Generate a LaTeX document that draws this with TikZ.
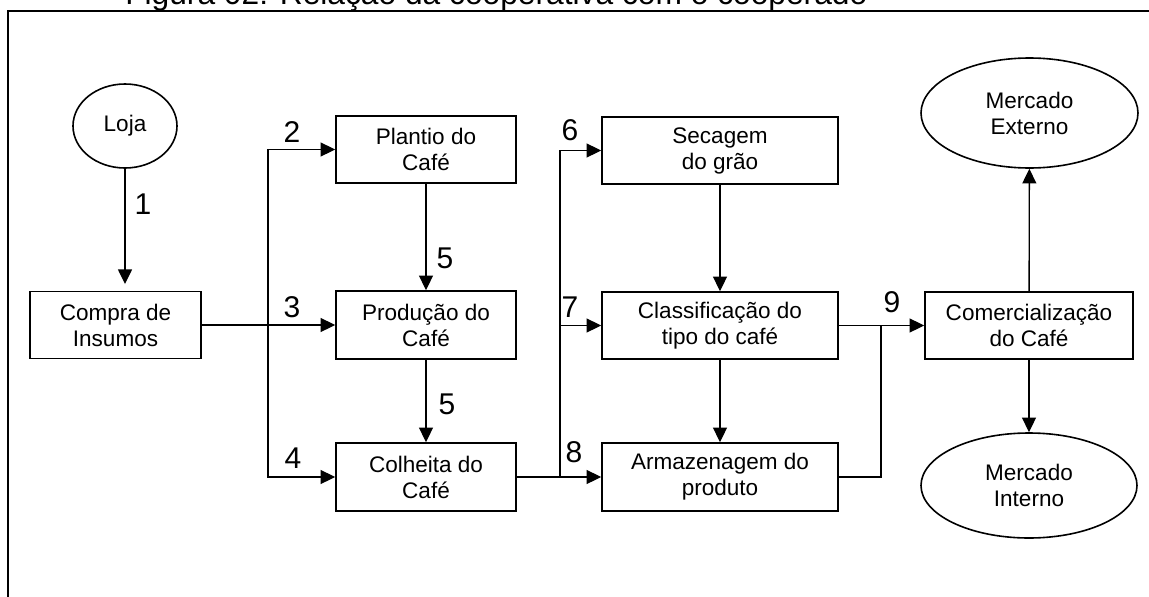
\documentclass[tikz,border=0pt]{standalone}
\usepackage{fontspec}
\setmainfont{Liberation Sans}
\usetikzlibrary{arrows.meta,shapes.geometric}
\tikzset{
  stepbox/.style={draw, line width=1.2pt, inner sep=0pt, align=center,
    font=\fontsize{16.9}{19.5}\selectfont},
  oval/.style={ellipse, draw, line width=1.2pt, inner sep=0pt, align=center,
    font=\fontsize{16.9}{19.5}\selectfont},
  conn/.style={line width=1pt},
  arr/.style={conn, -{Triangle[length=11pt,width=10.5pt]}},
  joint/.style={line width=1.8pt},
  num/.style={inner sep=0pt, font=\fontsize{22.5}{27}\selectfont},
}
\begin{document}
\begin{tikzpicture}[x=0.75pt,y=-0.75pt]
\useasboundingbox (0,0) rectangle (1149,596);
\clip (0,0) rectangle (1149,596);
\fill[white] (0,0) rectangle (1149,596);
% caption (cut at the top)
\node[anchor=base west, inner sep=0pt, font=\fontsize{23.8}{28}\selectfont] (cap) at (125,4) {Figura 02: Relação da cooperativa com o cooperado};
% frame
\draw[line width=1.5pt] (8,620) -- (8,10.5) -- (1170,10.5);
% nodes
\node[oval, minimum width=78pt, minimum height=63pt] (loja) at (125,126) {Loja};
\node[stepbox, minimum width=128.25pt, minimum height=50.25pt] (compra) at (115.5,325) {Compra de\\Insumos};
\node[stepbox, minimum width=135pt, minimum height=50.25pt] (plantio) at (426,149.5) {Plantio do\\Café};
\node[stepbox, minimum width=135pt, minimum height=51pt] (producao) at (426,325) {Produção do\\Café};
\node[stepbox, minimum width=135pt, minimum height=51pt] (colheita) at (426,477) {Colheita do\\Café};
\node[stepbox, minimum width=177pt, minimum height=50.25pt] (secagem) at (720,150.5) {Secagem\\do grão};
\node[stepbox, minimum width=177pt, minimum height=50.25pt] (classif) at (720,325.5) {Classificação do\\tipo do café};
\node[stepbox, minimum width=177pt, minimum height=51pt] (armaz) at (720,477) {Armazenagem do\\produto};
\node[stepbox, minimum width=156pt, minimum height=50.25pt] (comerc) at (1029,325.5) {Comercialização\\do Café};
\node[oval, minimum width=162.75pt, minimum height=82.5pt] (mext) at (1029.5,113) {Mercado\\Externo};
\node[oval, minimum width=162pt, minimum height=78.75pt] (mint) at (1029,485.5) {Mercado\\Interno};
% junction points
\coordinate (b) at (268,325);
\coordinate (c) at (560,477);
\coordinate (d) at (881,325.5);
% connectors
\draw[arr, shorten >=5pt] (loja.south) -- (loja.south |- compra.north);
\draw[joint] (compra.east) -- (b);
\draw[arr] (compra.east) -- (producao.west);
\draw[arr] (b) |- (plantio.west);
\draw[arr] (b) |- (colheita.west);
\draw[arr] (plantio) -- (producao);
\draw[arr] (producao) -- (colheita);
\draw[joint] (colheita.east) -- (c);
\draw[arr] (colheita.east) -- (armaz.west);
\draw[arr] (c) |- (secagem.west);
\draw[arr] (c) |- (classif.west);
\draw[arr] (secagem) -- (classif);
\draw[arr] (classif) -- (armaz);
\draw[conn] (armaz.east) -| (d);
\draw[arr] (classif.east) -- (comerc.west);
\draw[arr] (comerc) -- (mext);
\draw[arr] (comerc) -- (mint);
% labels
\node[num] (l1) at (143,204) {1};
\node[num] (l2) at (292,132) {2};
\node[num] (l3) at (292,307) {3};
\node[num] (l4) at (293,458) {4};
\node[num] (l5a) at (445,258) {5};
\node[num] (l5b) at (447,404) {5};
\node[num] (l6) at (570,130) {6};
\node[num] (l7) at (570,307) {7};
\node[num] (l8) at (574,452) {8};
\node[num] (l9) at (892,302) {9};
\end{tikzpicture}
\end{document}
